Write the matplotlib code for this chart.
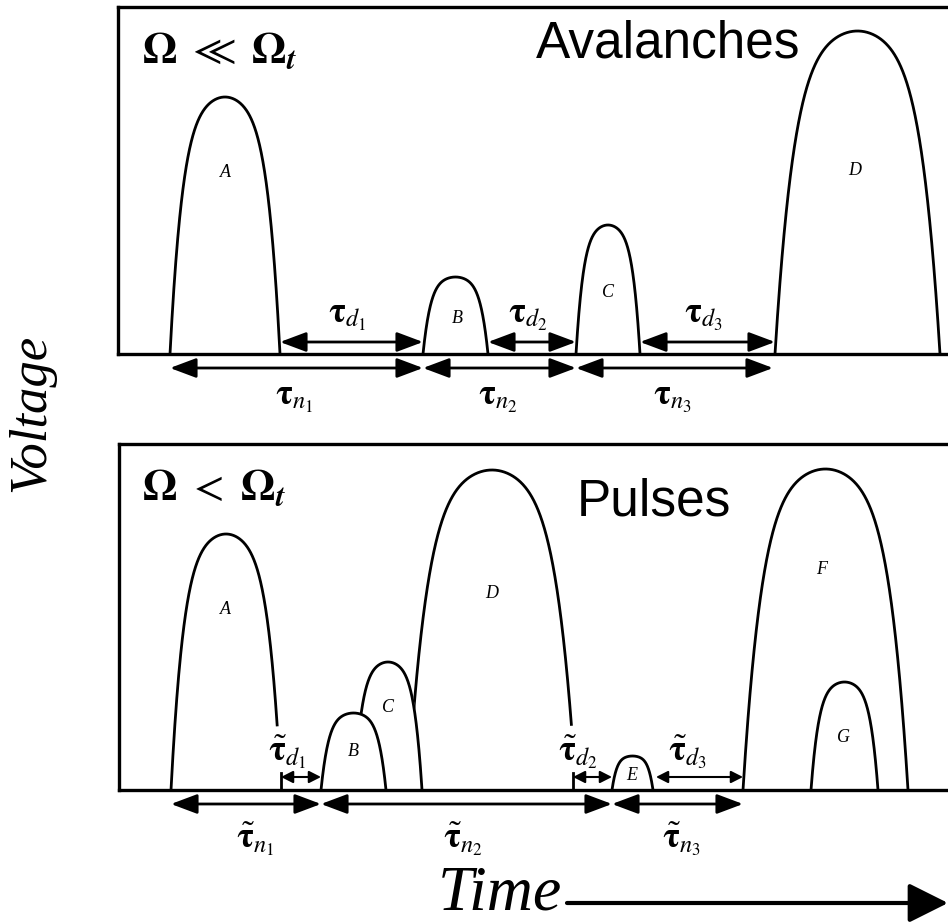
import numpy as np
import matplotlib
matplotlib.use("Agg")
import matplotlib.pyplot as plt

plt.rcParams['mathtext.fontset'] = 'stix'
plt.rcParams['font.family'] = ['Liberation Serif', 'DejaVu Serif']

W, H = 948, 923

# Avalanches (upper panel): pulse start, end, height
top_names = ['A', 'B', 'C', 'D']
top_start = [52, 305, 458, 657]
top_end = [162, 370, 522, 822]
top_height = [257, 77, 129, 323]
top_label_xy = [(107, 182), (339, 36), (490, 62), (737, 184)]

# intervals between avalanches
top_d_spans = [(162, 305), (370, 458), (522, 657)]
top_n_spans = [(52, 305), (305, 458), (458, 655)]
top_d_labels = [r'$\mathbf{\tau}_{d_1}$', r'$\mathbf{\tau}_{d_2}$', r'$\mathbf{\tau}_{d_3}$']
top_n_labels = [r'$\mathbf{\tau}_{n_1}$', r'$\mathbf{\tau}_{n_2}$', r'$\mathbf{\tau}_{n_3}$']

# Pulses (lower panel); cut = height where the falling edge stops (0 = full)
bot_names = ['A', 'B', 'C', 'D', 'E', 'F', 'G']
bot_start = [53, 203, 236, 290, 494, 625, 693]
bot_end = [163, 268, 304, 458, 535, 790, 760]
bot_height = [256, 77, 128, 320, 34, 321, 108]
bot_cut = [63, 0, 0, 62, 0, 0, 0]
bot_layer = [2, 5, 4, 3, 2, 2, 3]
bot_label_xy = [(107, 180), (235, 38), (270, 82), (374, 196), (514, 14), (704, 220), (725, 52)]

bot_ticks = [163, 455]
bot_d_spans = [(163, 203), (455, 494), (538, 625)]
bot_n_spans = [(53, 203), (203, 494), (494, 625)]
bot_d_labels = [r'$\tilde{\mathbf{\tau}}_{d_1}$', r'$\tilde{\mathbf{\tau}}_{d_2}$', r'$\tilde{\mathbf{\tau}}_{d_3}$']
bot_n_labels = [r'$\tilde{\mathbf{\tau}}_{n_1}$', r'$\tilde{\mathbf{\tau}}_{n_2}$', r'$\tilde{\mathbf{\tau}}_{n_3}$']
bot_d_label_x = [169, 460, 570]
bot_n_label_x = [137, 345, 564]


def arch(t0, t1, h, num=400):
    # rounded dome with steep flanks
    t = np.linspace(t0, t1, num)
    u = 2 * (t - t0) / (t1 - t0) - 1
    return t, u, h * (1 - 0.3 * u ** 2 - 0.7 * np.abs(u) ** 5)


def make_axes(left_px, top_px, base_px):
    ax = fig.add_axes([left_px / W, 1 - base_px / H, (1010 - left_px) / W, (base_px - top_px) / H])
    ax.set_xlim(left_px - 118, 1010 - 118)
    ax.set_ylim(0, base_px - top_px)
    ax.set_xticks([])
    ax.set_yticks([])
    for s in ax.spines.values():
        s.set_linewidth(2.4)
        s.set_zorder(10)
    return ax


def draw_arrow(ax, t0, t1, y, big=True):
    if big:
        style, ms, lw = '<|-|>,head_length=0.8,head_width=0.3', 20, 2.0
    else:
        style, ms, lw = '<|-|>,head_length=0.55,head_width=0.28', 13, 1.5
    ax.annotate('', xy=(t1, y), xytext=(t0, y), annotation_clip=False,
                arrowprops=dict(arrowstyle=style, mutation_scale=ms, lw=lw,
                                color='black', shrinkA=0, shrinkB=0))


fig = plt.figure(figsize=(W / 100, H / 100), dpi=100)

# ---- upper panel
ax1 = make_axes(118, 7, 354)
for s, e, h in zip(top_start, top_end, top_height):
    t, u, v = arch(s, e, h)
    ax1.fill_between(t, v, color='white', zorder=2)
    ax1.plot(t, v, color='black', lw=2, zorder=2)
for name, (x, y) in zip(top_names, top_label_xy):
    ax1.text(x, y, name, style='italic', fontsize=13, ha='center', va='center')
for (t0, t1), lab in zip(top_d_spans, top_d_labels):
    draw_arrow(ax1, t0, t1, 12)
    ax1.text((t0 + t1) / 2 - 4, 38, lab, fontsize=25, ha='center', va='center')
for (t0, t1), lab in zip(top_n_spans, top_n_labels):
    draw_arrow(ax1, t0, t1, -14)
    ax1.text((t0 + t1) / 2 - 2, -44, lab, fontsize=25, ha='center', va='center')
ax1.text(24, 291, r'$\mathbf{\Omega}\ \ll\ \mathbf{\Omega}_{\mathbfit{t}}$', fontsize=32,
         ha='left', va='baseline')
ax1.text(682, 297, 'Avalanches', family='Liberation Sans', fontsize=37,
         ha='right', va='baseline')

# ---- lower panel
ax2 = make_axes(119, 444, 790)
for s, e, h, c, z in zip(bot_start, bot_end, bot_height, bot_cut, bot_layer):
    t, u, v = arch(s, e, h)
    keep = (u <= 0) | (v >= c)
    ax2.fill_between(t, v, color='white', zorder=z)
    ax2.plot(t[keep], v[keep], color='black', lw=2, zorder=z)
for name, (x, y) in zip(bot_names, bot_label_xy):
    ax2.text(x, y, name, style='italic', fontsize=13, ha='center', va='center', zorder=6)
for x in bot_ticks:
    ax2.plot([x, x], [0, 17], color='black', lw=2, zorder=7)
for t0, t1 in bot_d_spans:
    draw_arrow(ax2, t0, t1, 13, big=False)
for x, lab in zip(bot_d_label_x, bot_d_labels):
    ax2.text(x, 38, lab, fontsize=25, ha='center', va='center', zorder=8)
for t0, t1 in bot_n_spans:
    draw_arrow(ax2, t0, t1, -14)
for x, lab in zip(bot_n_label_x, bot_n_labels):
    ax2.text(x, -49, lab, fontsize=25, ha='center', va='center')
ax2.text(24, 290, r'$\mathbf{\Omega}\ <\ \mathbf{\Omega}_{\mathbfit{t}}$', fontsize=32,
         ha='left', va='baseline')
ax2.text(459, 275, 'Pulses', family='Liberation Sans', fontsize=37,
         ha='left', va='baseline')

# axis captions
fig.text(31 / W, 1 - 413 / H, 'Voltage', style='italic', fontsize=38,
         rotation=90, ha='center', va='center')
fig.text(438 / W, 1 - 909 / H, 'Time', style='italic', fontsize=46,
         ha='left', va='baseline')
fig.add_artist(matplotlib.patches.FancyArrowPatch(
    (567 / W, 1 - 903 / H), (948 / W, 1 - 903 / H), transform=fig.transFigure,
    arrowstyle='-|>,head_length=1.1,head_width=0.55', mutation_scale=22,
    lw=3, color='black', shrinkA=0, shrinkB=0))

fig.savefig('out.png', dpi=100)
